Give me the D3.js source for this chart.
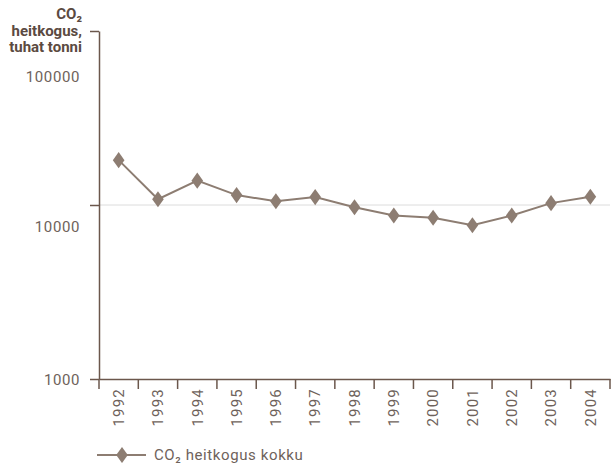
<!DOCTYPE html>
<html>
<head>
<meta charset="utf-8">
<script src="https://cdn.jsdelivr.net/npm/d3@7"></script>
<style>
  body { margin: 0; background: #fff; }
  svg { font-family: Roboto, "DejaVu Sans Condensed", sans-serif; }
</style>
</head>
<body>
<svg id="chart" width="611" height="463"></svg>
<script>
var years = ["1992", "1993", "1994", "1995", "1996", "1997", "1998", "1999", "2000", "2001", "2002", "2003", "2004"];
var emissions = [18100, 10800, 13800, 11400, 10500, 11100, 9700, 8700, 8450, 7650, 8700, 10250, 11150];
var yTicks = [1000, 10000, 100000];
var yTickLabels = ["1000", "10000", "100000"];
var titleLines = ["CO\u2082", "heitkogus,", "tuhat tonni"];
var legendLabel = "CO\u2082 heitkogus kokku";

var axisColor = "#6b574c";
var lineColor = "#8d7d72";
var textColor = "#6e625b";

var svg = d3.select("#chart");
var plotLeft = 99, plotRight = 610, plotTop = 31, plotBottom = 379;

var x = d3.scaleBand().domain(years).range([plotLeft, plotRight]);
var y = d3.scaleLog().domain([1000, 100000]).range([plotBottom, plotTop]);

// gridline at 10000 only
svg.append("line")
  .attr("x1", plotLeft).attr("x2", plotRight)
  .attr("y1", y(10000)).attr("y2", y(10000))
  .attr("stroke", "#dcdcdc").attr("stroke-width", 1);

// y axis
var yAxis = svg.append("g")
  .attr("transform", "translate(" + plotLeft + ",0)")
  .call(d3.axisLeft(y).tickValues(yTicks).tickFormat("").tickSize(9).tickSizeOuter(0));
yAxis.select(".domain").attr("stroke", axisColor).attr("stroke-width", 1.5);
yAxis.selectAll(".tick line").attr("stroke", axisColor).attr("stroke-width", 1.5);

// tick labels sit a bit below their ticks in the original
var labelShift = [1, 22, 46];
svg.append("g").selectAll("text")
  .data(yTicks)
  .enter().append("text")
  .attr("x", 80)
  .attr("y", function(d, i) { return y(d) + labelShift[i]; })
  .attr("dy", "0.35em")
  .attr("text-anchor", "end")
  .attr("fill", textColor)
  .style("font-size", "15px")
  .style("letter-spacing", "0.6px")
  .text(function(d, i) { return yTickLabels[i]; });

// x axis
var xAxis = svg.append("g")
  .attr("transform", "translate(0," + plotBottom + ")")
  .call(d3.axisBottom(x).tickSize(0).tickSizeOuter(0));
xAxis.select(".domain").attr("stroke", axisColor).attr("stroke-width", 1.5);
xAxis.selectAll(".tick text")
  .attr("fill", textColor)
  .style("font-size", "15px")
  .style("letter-spacing", "1.2px")
  .style("font-family", "Roboto, sans-serif")
  .attr("transform", "rotate(-90)")
  .attr("text-anchor", "end")
  .attr("x", -9)
  .attr("y", 0)
  .attr("dy", "0.35em");

// band separators
var seps = years.map(function(d) { return x(d); }).concat([plotRight]);
svg.append("g").selectAll("line")
  .data(seps)
  .enter().append("line")
  .attr("x1", function(d) { return d; }).attr("x2", function(d) { return d; })
  .attr("y1", plotBottom).attr("y2", plotBottom + 10)
  .attr("stroke", axisColor).attr("stroke-width", 1.5);

// series line
var cx = function(d, i) { return x(years[i]) + x.bandwidth() / 2; };
svg.append("path")
  .datum(emissions)
  .attr("fill", "none")
  .attr("stroke", lineColor)
  .attr("stroke-width", 2)
  .attr("d", d3.line().x(cx).y(function(d) { return y(d); }));

var diamond = d3.symbol().type(d3.symbolDiamond).size(75);
svg.append("g").selectAll("path")
  .data(emissions)
  .enter().append("path")
  .attr("d", diamond)
  .attr("fill", lineColor)
  .attr("transform", function(d, i) { return "translate(" + cx(d, i) + "," + y(d) + ") scale(1.25,1)"; });

// axis title
svg.append("text")
  .attr("text-anchor", "end")
  .attr("fill", "#5b4a41")
  .style("font-size", "15px")
  .style("font-weight", "bold")
  .selectAll("tspan")
  .data(titleLines)
  .enter().append("tspan")
  .attr("x", 82)
  .attr("y", function(d, i) { return 19 + i * 16.5; })
  .text(function(d) { return d; });

// legend
var ly = 455;
svg.append("line")
  .attr("x1", 97).attr("x2", 146).attr("y1", ly).attr("y2", ly)
  .attr("stroke", lineColor).attr("stroke-width", 2);
svg.append("path")
  .attr("d", diamond)
  .attr("fill", lineColor)
  .attr("transform", "translate(122," + ly + ") scale(1.25,1)");
svg.append("text")
  .attr("x", 154).attr("y", ly)
  .attr("dy", "0.3em")
  .attr("fill", textColor)
  .style("font-size", "15px")
  .style("letter-spacing", "0.6px")
  .text(legendLabel);
</script>
</body>
</html>
